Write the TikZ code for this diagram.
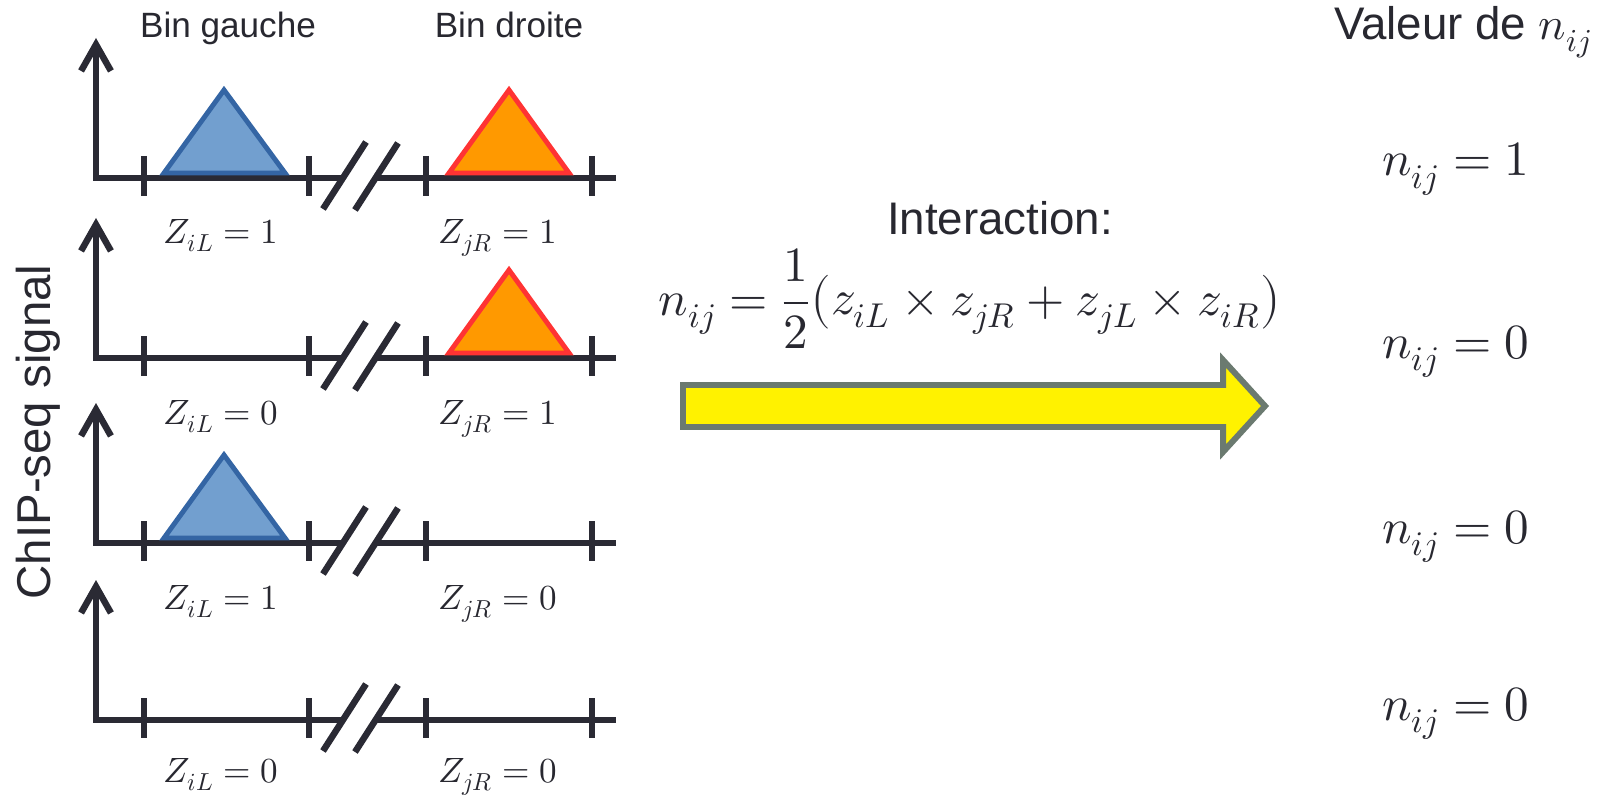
\documentclass[tikz,border=0pt]{standalone}
\usepackage{amsmath}
\usepackage{unicode-math}
\newfontfamily\arialf{Liberation Sans}
\usetikzlibrary{arrows.meta}

\definecolor{ink}{RGB}{40,40,48}
\definecolor{axiscol}{RGB}{42,42,52}
\definecolor{peakblue}{RGB}{114,159,207}
\definecolor{edgeblue}{RGB}{52,101,164}
\definecolor{peakorange}{RGB}{255,153,0}
\definecolor{edgered}{RGB}{255,51,51}
\definecolor{arrowgray}{RGB}{107,122,112}

\begin{document}
\begin{tikzpicture}[
    x=0.02cm, y=-0.02cm,
    axis/.style={draw=axiscol, line width=3.7pt},
    axarrow/.style={{Straight Barb[length=15pt, width=17pt]}-},
    peakL/.style={fill=peakblue, draw=edgeblue, line width=2.8pt},
    peakR/.style={fill=peakorange, draw=edgered, line width=2.8pt},
    sanslab/.style={font=\arialf\fontsize{20}{24}\selectfont, text=ink, anchor=base, inner sep=0pt},
    biglab/.style={font=\arialf\fontsize{26}{30}\selectfont, text=ink, anchor=base, inner sep=0pt},
    zlab/.style={font=\fontsize{20}{24}\selectfont, text=ink, anchor=base, inner sep=0pt},
    nval/.style={font=\fontsize{28}{32}\selectfont, text=ink, anchor=base, inner sep=0pt},
    blockarrow/.style={fill=yellow, draw=arrowgray, line width=3.4pt}
]
\useasboundingbox (0,0) rectangle (1608,797);

% axes of the four panels
\foreach \b in {178,358,543,720}{
    \draw[axis, axarrow] (96,\b-140) -- (96,\b) -- (342,\b);
    \draw[axis] (375,\b) -- (616,\b);
    \foreach \t in {144,309,426,592}
        \draw[axis] (\t,\b-22) -- (\t,\b+18);
    \draw[axis] (323,\b+31) -- (366,\b-36);
    \draw[axis] (355,\b+32) -- (398,\b-35);
}

% peaks
\draw[peakL] (164,173) -- (224,90) -- (285,173) -- cycle;
\draw[peakR] (449,173) -- (509,90) -- (569,173) -- cycle;
\draw[peakR] (449,353) -- (509,270) -- (569,353) -- cycle;
\draw[peakL] (164,538) -- (224,455) -- (285,538) -- cycle;

\node[sanslab] (binL) at (228,38) {Bin gauche};
\node[sanslab] (binR) at (509,38) {Bin droite};
\node[biglab, rotate=90, font=\arialf\fontsize{27}{30}\selectfont] (ylab) at (50,432) {ChIP-seq signal};

\node[zlab] (z1L) at (221,243) {$Z_{iL} = 1$};
\node[zlab] (z1R) at (498,243) {$Z_{jR} = 1$};
\node[zlab] (z2L) at (221,424) {$Z_{iL} = 0$};
\node[zlab] (z2R) at (498,424) {$Z_{jR} = 1$};
\node[zlab] (z3L) at (221,609) {$Z_{iL} = 1$};
\node[zlab] (z3R) at (498,609) {$Z_{jR} = 0$};
\node[zlab] (z4L) at (221,782) {$Z_{iL} = 0$};
\node[zlab] (z4R) at (498,782) {$Z_{jR} = 0$};

% interaction rule
\node[biglab] (inter) at (1000,235) {Interaction:};
\node[nval] (rule) at (970,315) {$n_{ij} = \dfrac{1}{2}\bigl(z_{iL}\times z_{jR} + z_{jL}\times z_{iR}\bigr)$};
\draw[blockarrow] (683,385) -- (1223,385) -- (1223,360) -- (1265,406)
    -- (1223,452) -- (1223,427) -- (683,427) -- cycle;

% values
\node[biglab] (valeur) at (1463,40) {Valeur de $n_{ij}$};
\node[nval] (n1) at (1456,176) {$n_{ij} = 1$};
\node[nval] (n2) at (1456,358) {$n_{ij} = 0$};
\node[nval] (n3) at (1456,543) {$n_{ij} = 0$};
\node[nval] (n4) at (1456,720) {$n_{ij} = 0$};

\end{tikzpicture}
\end{document}
